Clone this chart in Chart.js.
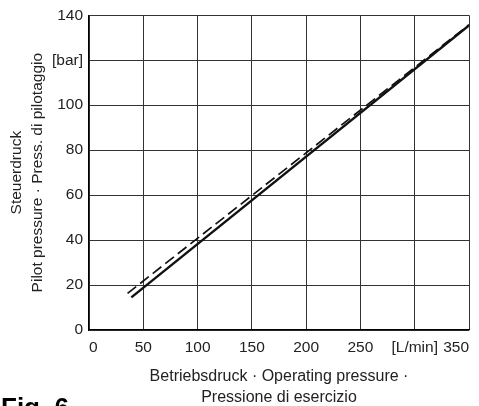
<!DOCTYPE html>
<html>
<head>
<meta charset="utf-8">
<script src="https://cdn.jsdelivr.net/npm/chart.js@4.4.0/dist/chart.umd.min.js"></script>
<style>
  html, body { margin: 0; padding: 0; background: #fff; }
  #wrap { width: 479px; height: 406px; position: relative; }
</style>
</head>
<body>
<div id="wrap"><canvas id="fig6"></canvas></div>
<script>
// operating pressure [L/min] vs. pilot pressure [bar]
const solidFlow = [39, 350];
const solidPilot = [14.5, 135.5];
const dashedFlow = [35.5, 350];
const dashedPilot = [16.3, 135.8];

const xTicks = [0, 50, 100, 150, 200, 250, 300, 350];
const yTicks = [0, 20, 40, 60, 80, 100, 120, 140];

const toPoints = (xs, ys) => xs.map((x, i) => ({ x: x, y: ys[i] }));

const FONT = 'Liberation Sans, Arial, sans-serif';

// "Fig. 6" caption in the lower left corner
const figLabel = {
  id: 'figLabel',
  afterDraw(chart) {
    const c = chart.ctx;
    c.save();
    c.font = 'bold 26px ' + FONT;
    c.fillStyle = '#000';
    c.textBaseline = 'alphabetic';
    c.fillText('Fig. 6', 1, 416);
    c.restore();
  }
};

new Chart(document.getElementById('fig6'), {
  type: 'scatter',
  data: {
    datasets: [{
      data: toPoints(solidFlow, solidPilot),
      showLine: true,
      borderColor: '#111',
      borderWidth: 2.4,
      pointRadius: 0
    }, {
      data: toPoints(dashedFlow, dashedPilot),
      showLine: true,
      borderColor: '#111',
      borderWidth: 1.7,
      borderDash: [11, 5],
      pointRadius: 0
    }]
  },
  options: {
    responsive: true,
    maintainAspectRatio: false,
    animation: false,
    layout: { padding: { top: 4, right: 10, left: 0, bottom: 0 } },
    plugins: { legend: { display: false }, tooltip: { enabled: false } },
    scales: {
      x: {
        type: 'linear',
        min: 0, max: 350,
        afterBuildTicks: s => { s.ticks = xTicks.map(v => ({ value: v })); },
        afterFit: s => { s.height = 76; s.paddingRight = 0; s.paddingLeft = 0; },
        grid: { color: '#333', lineWidth: 1, drawTicks: false },
        border: { color: '#000', width: 1.2 },
        ticks: {
          color: '#222', padding: 8,
          maxRotation: 0, minRotation: 0, autoSkip: false,
          align: 'inner',
          font: { family: FONT, size: 15.5 },
          callback: v => v === 300 ? '[L/min]' : v
        },
        title: {
          display: true,
          text: ['Betriebsdruck · Operating pressure ·', 'Pressione di esercizio'],
          color: '#222',
          font: { family: FONT, size: 16, lineHeight: 1.3 },
          padding: { top: 5, bottom: -2 }
        }
      },
      y: {
        type: 'linear',
        min: 0, max: 140,
        afterBuildTicks: s => { s.ticks = yTicks.map(v => ({ value: v })); },
        afterFit: s => { s.width = 89; },
        grid: { color: '#333', lineWidth: 1, drawTicks: false },
        border: { color: '#000', width: 1.2 },
        ticks: {
          color: '#222', padding: 6,
          font: { family: FONT, size: 15.5 },
          callback: v => v === 120 ? '[bar]' : v
        },
        title: {
          display: true,
          text: ['Steuerdruck', 'Pilot pressure · Press. di pilotaggio'],
          color: '#222',
          font: { family: FONT, size: 15.5, lineHeight: 1.35 },
          padding: { top: 6, bottom: 0 }
        }
      }
    }
  },
  plugins: [figLabel]
});
</script>
</body>
</html>
